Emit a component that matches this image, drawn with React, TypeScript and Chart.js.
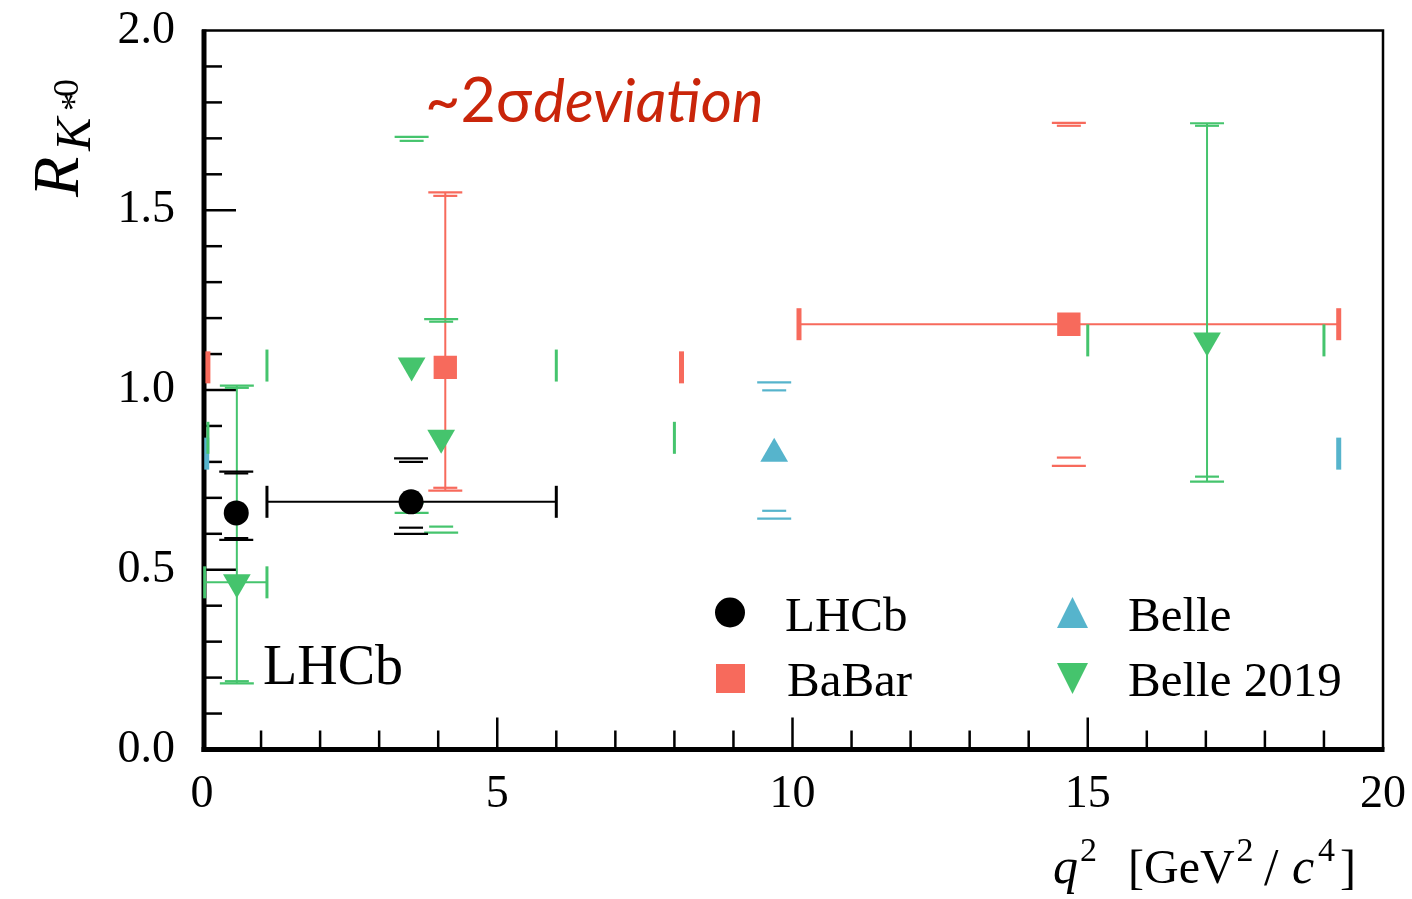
import React, { useEffect, useRef } from 'react';
import { Chart, registerables } from 'chart.js';

Chart.register(...registerables);

// ---------- axis ranges / tick labels ----------
const X_MIN = 0;
const X_MAX = 20;
const X_MAJOR_STEP = 5;
const X_MINOR_STEP = 1;
const Y_MIN = 0;
const Y_MAX = 2;
const Y_MAJOR_STEP = 0.5;
const Y_MINOR_STEP = 0.1;

// ---------- LHCb ----------
const LHCB_Q2 = [0.58, 3.54];
const LHCB_R = [0.658, 0.689];
const LHCB_Q2_LO = [0.045, 1.1];
const LHCB_Q2_HI = [1.1, 6.0];
const LHCB_STAT_HI = [0.768, 0.8];
const LHCB_TOT_HI = [0.773, 0.81];
const LHCB_STAT_LO = [0.588, 0.617];
const LHCB_TOT_LO = [0.583, 0.6];

// ---------- BaBar ----------
const BABAR_Q2 = [4.12, 14.68];
const BABAR_R = [1.063, 1.183];
const BABAR_Q2_LO = [0.1, 10.11];
const BABAR_Q2_HI = [8.12, 19.25];
const BABAR_STAT_HI = [1.54, 1.735];
const BABAR_TOT_HI = [1.55, 1.743];
const BABAR_STAT_LO = [0.728, 0.812];
const BABAR_TOT_LO = [0.72, 0.789];

// ---------- Belle ----------
const BELLE_Q2 = [9.69];
const BELLE_R = [0.823];
const BELLE_Q2_LO = [0.08];
const BELLE_Q2_HI = [19.25];
const BELLE_STAT_HI = [0.999];
const BELLE_TOT_HI = [1.021];
const BELLE_STAT_LO = [0.664];
const BELLE_TOT_LO = [0.642];

// ---------- Belle 2019 ----------
const BELLE19_Q2 = [0.59, 3.55, 4.05, 17.02];
const BELLE19_R = [0.465, 1.068, 0.867, 1.138];
const BELLE19_Q2_LO = [0.045, 1.1, 0.1, 15.0];
const BELLE19_Q2_HI = [1.1, 6.0, 8.0, 19.0];
const BELLE19_STAT_HI = [1.006, 1.693, 1.19, 1.735];
const BELLE19_TOT_HI = [1.012, 1.704, 1.197, 1.742];
const BELLE19_STAT_LO = [0.19, 0.685, 0.62, 0.759];
const BELLE19_TOT_LO = [0.184, 0.658, 0.603, 0.745];

// ---------- colours ----------
const C_LHCB = '#000000';
const C_BABAR = '#F76A5C';
const C_BELLE = '#56B4CC';
const C_BELLE19 = '#45C46D';
const C_NOTE = '#C9250A';

// which pieces of each error bar are drawn (as in the original figure)
type ErrSeries = {
  color: string;
  q2: number[]; r: number[]; q2Lo: number[]; q2Hi: number[];
  statHi: number[]; totHi: number[]; statLo: number[]; totLo: number[];
  vLine: boolean[]; hLine: boolean[]; xCaps: boolean[]; xCapWidth: number;
};

const SERIES_ERR: ErrSeries[] = [
  {
    color: C_BELLE, q2: BELLE_Q2, r: BELLE_R, q2Lo: BELLE_Q2_LO, q2Hi: BELLE_Q2_HI,
    statHi: BELLE_STAT_HI, totHi: BELLE_TOT_HI, statLo: BELLE_STAT_LO, totLo: BELLE_TOT_LO,
    vLine: [false], hLine: [false], xCaps: [true], xCapWidth: 5,
  },
  {
    color: C_BABAR, q2: BABAR_Q2, r: BABAR_R, q2Lo: BABAR_Q2_LO, q2Hi: BABAR_Q2_HI,
    statHi: BABAR_STAT_HI, totHi: BABAR_TOT_HI, statLo: BABAR_STAT_LO, totLo: BABAR_TOT_LO,
    vLine: [true, false], hLine: [false, true], xCaps: [true, true], xCapWidth: 5,
  },
  {
    color: C_BELLE19, q2: BELLE19_Q2, r: BELLE19_R, q2Lo: BELLE19_Q2_LO, q2Hi: BELLE19_Q2_HI,
    statHi: BELLE19_STAT_HI, totHi: BELLE19_TOT_HI, statLo: BELLE19_STAT_LO, totLo: BELLE19_TOT_LO,
    vLine: [true, false, false, true], hLine: [true, false, false, false],
    xCaps: [true, true, true, true], xCapWidth: 3,
  },
  {
    color: C_LHCB, q2: LHCB_Q2, r: LHCB_R, q2Lo: LHCB_Q2_LO, q2Hi: LHCB_Q2_HI,
    statHi: LHCB_STAT_HI, totHi: LHCB_TOT_HI, statLo: LHCB_STAT_LO, totLo: LHCB_TOT_LO,
    vLine: [false, false], hLine: [false, true], xCaps: [false, true], xCapWidth: 3,
  },
];

const SERIF = '"Liberation Serif", "Times New Roman", serif';
const SANS = 'Lato, "Open Sans", sans-serif';

const zeroPad = (s: any) => {
  s.paddingLeft = 0;
  s.paddingRight = 0;
  s.paddingTop = 0;
  s.paddingBottom = 0;
};

const framePlugin = {
  id: 'frameAndErrors',
  beforeDatasetsDraw(chart: any) {
    const { ctx, chartArea: a, scales } = chart;
    const xs = scales.x;
    const ys = scales.y;
    ctx.save();
    // frame
    ctx.strokeStyle = '#000';
    ctx.lineCap = 'butt';
    ctx.lineWidth = 2.5;
    ctx.beginPath();
    ctx.moveTo(a.left, a.top);
    ctx.lineTo(a.right, a.top);
    ctx.lineTo(a.right, a.bottom);
    ctx.stroke();
    ctx.lineWidth = 5;
    ctx.beginPath();
    ctx.moveTo(a.left + 2, a.top - 1);
    ctx.lineTo(a.left + 2, a.bottom + 2.5);
    ctx.stroke();
    ctx.beginPath();
    ctx.moveTo(a.left - 0.5, a.bottom);
    ctx.lineTo(a.right + 1.5, a.bottom);
    ctx.stroke();

    // inward ticks
    ctx.lineWidth = 2.5;
    const ny = Math.round((Y_MAX - Y_MIN) / Y_MINOR_STEP);
    for (let i = 1; i < ny; i++) {
      const v = Y_MIN + i * Y_MINOR_STEP;
      const major = Math.abs(v / Y_MAJOR_STEP - Math.round(v / Y_MAJOR_STEP)) < 1e-6;
      const py = ys.getPixelForValue(v);
      ctx.beginPath();
      ctx.moveTo(a.left + 2, py);
      ctx.lineTo(a.left + (major ? 34 : 20), py);
      ctx.stroke();
    }
    const nx = Math.round((X_MAX - X_MIN) / X_MINOR_STEP);
    for (let i = 1; i < nx; i++) {
      const v = X_MIN + i * X_MINOR_STEP;
      const major = Math.abs(v / X_MAJOR_STEP - Math.round(v / X_MAJOR_STEP)) < 1e-6;
      const px = xs.getPixelForValue(v);
      ctx.beginPath();
      ctx.moveTo(px, a.bottom);
      ctx.lineTo(px, a.bottom - (major ? 32 : 19));
      ctx.stroke();
    }

    // error bars
    for (const s of SERIES_ERR) {
      ctx.strokeStyle = s.color;
      for (let i = 0; i < s.q2.length; i++) {
        const px = xs.getPixelForValue(s.q2[i]);
        const py = ys.getPixelForValue(s.r[i]);
        ctx.lineWidth = 2;
        if (s.vLine[i]) {
          ctx.beginPath();
          ctx.moveTo(px, ys.getPixelForValue(s.totHi[i]));
          ctx.lineTo(px, ys.getPixelForValue(s.totLo[i]));
          ctx.stroke();
        }
        if (s.hLine[i]) {
          ctx.beginPath();
          ctx.moveTo(xs.getPixelForValue(s.q2Lo[i]), py);
          ctx.lineTo(xs.getPixelForValue(s.q2Hi[i]), py);
          ctx.stroke();
        }
        ctx.lineWidth = 2.2;
        const caps: [number, number][] = [
          [s.totHi[i], 17], [s.totLo[i], 17], [s.statHi[i], 12], [s.statLo[i], 12],
        ];
        for (const [v, hw] of caps) {
          const cy = ys.getPixelForValue(v);
          ctx.beginPath();
          ctx.moveTo(px - hw, cy);
          ctx.lineTo(px + hw, cy);
          ctx.stroke();
        }
        if (s.xCaps[i]) {
          ctx.lineWidth = s.xCapWidth;
          for (const v of [s.q2Lo[i], s.q2Hi[i]]) {
            const cx = xs.getPixelForValue(v);
            ctx.beginPath();
            ctx.moveTo(cx, py - 16);
            ctx.lineTo(cx, py + 16);
            ctx.stroke();
          }
        }
      }
    }
    ctx.restore();
  },
  afterDraw(chart: any) {
    const { ctx } = chart;
    ctx.save();
    ctx.fillStyle = '#000';
    ctx.textBaseline = 'alphabetic';
    ctx.textAlign = 'left';

    // in-plot experiment label
    ctx.font = `56px ${SERIF}`;
    ctx.fillText('LHCb', 263, 684);

    // legend
    ctx.fillStyle = C_LHCB;
    ctx.beginPath();
    ctx.arc(730, 612.5, 15, 0, Math.PI * 2);
    ctx.fill();
    ctx.fillStyle = C_BABAR;
    ctx.fillRect(716, 664, 29, 29);
    ctx.fillStyle = C_BELLE;
    ctx.beginPath();
    ctx.moveTo(1072.5, 597);
    ctx.lineTo(1088, 628);
    ctx.lineTo(1057, 628);
    ctx.closePath();
    ctx.fill();
    ctx.fillStyle = C_BELLE19;
    ctx.beginPath();
    ctx.moveTo(1057, 663);
    ctx.lineTo(1088, 663);
    ctx.lineTo(1072.5, 694);
    ctx.closePath();
    ctx.fill();
    ctx.fillStyle = '#000';
    ctx.font = `49px ${SERIF}`;
    ctx.fillText('LHCb', 785, 631);
    ctx.fillText('BaBar', 787, 696);
    ctx.fillText('Belle', 1128, 631);
    ctx.fillText('Belle 2019', 1128, 696);

    // annotation
    ctx.fillStyle = C_NOTE;
    ctx.font = `61px ${SANS}`;
    const head = '~2σ';
    ctx.fillText(head, 425, 122);
    const hw = ctx.measureText(head).width;
    ctx.font = `italic 60px ${SANS}`;
    ctx.fillText('deviation', 425 + hw + 1, 122);

    // x-axis title  q^2 [GeV^2/c^4]
    ctx.fillStyle = '#000';
    const xb = 883;
    const main = `48px ${SERIF}`;
    const ital = `italic 50px ${SERIF}`;
    const sup = `34px ${SERIF}`;
    ctx.font = ital;
    ctx.fillText('q', 1053, xb);
    ctx.font = sup;
    ctx.fillText('2', 1080, xb - 22);
    ctx.font = main;
    ctx.fillText('[GeV', 1128, xb);
    const gw = ctx.measureText('[GeV').width;
    ctx.font = sup;
    ctx.fillText('2', 1128 + gw + 2, xb - 22);
    ctx.font = `52px ${SERIF}`;
    ctx.fillText('/', 1264, xb + 2);
    ctx.font = ital;
    ctx.fillText('c', 1292, xb);
    ctx.font = sup;
    ctx.fillText('4', 1318, xb - 22);
    ctx.font = main;
    ctx.fillText(']', 1340, xb);

    // y-axis title R_{K*0}
    ctx.translate(78, 197);
    ctx.rotate(-Math.PI / 2);
    ctx.font = `italic 66px ${SERIF}`;
    ctx.fillText('R', 0, 0);
    ctx.font = `italic 50px ${SERIF}`;
    ctx.fillText('K', 46, 12);
    ctx.font = `36px ${SERIF}`;
    ctx.fillText('*', 86, 8);
    ctx.fillText('0', 100, 0);
    ctx.restore();
  },
};

export default function App() {
  const ref = useRef<HTMLCanvasElement>(null);
  useEffect(() => {
    const toPts = (xs: number[], ys: number[]) => xs.map((x, i) => ({ x, y: ys[i] }));
    const chart = new Chart(ref.current as HTMLCanvasElement, {
      type: 'scatter',
      data: {
        datasets: [
          {
            label: 'LHCb', data: toPts(LHCB_Q2, LHCB_R), pointStyle: 'circle',
            pointRadius: 12.5, pointHoverRadius: 12.5, backgroundColor: C_LHCB, borderWidth: 0,
          },
          {
            label: 'Belle 2019', data: toPts(BELLE19_Q2, BELLE19_R), pointStyle: 'triangle',
            rotation: 180, pointRadius: 16, pointHoverRadius: 16, backgroundColor: C_BELLE19, borderWidth: 0,
          },
          {
            label: 'BaBar', data: toPts(BABAR_Q2, BABAR_R), pointStyle: 'rect',
            pointRadius: 16.5, pointHoverRadius: 16.5, backgroundColor: C_BABAR, borderWidth: 0,
          },
          {
            label: 'Belle', data: toPts(BELLE_Q2, BELLE_R), pointStyle: 'triangle',
            pointRadius: 16, pointHoverRadius: 16, backgroundColor: C_BELLE, borderWidth: 0,
          },
        ] as any,
      },
      options: {
        responsive: false,
        animation: false,
        devicePixelRatio: 1,
        events: [],
        layout: { padding: { left: 0, top: 30.5, right: 29, bottom: 0 } },
        plugins: { legend: { display: false }, tooltip: { enabled: false } },
        scales: {
          x: {
            type: 'linear', min: X_MIN, max: X_MAX,
            afterFit: (s: any) => { s.height = 149.5; zeroPad(s); },
            grid: { display: false, drawTicks: false },
            border: { display: false },
            ticks: {
              stepSize: X_MAJOR_STEP, autoSkip: false, maxRotation: 0,
              callback: (v: any) => String(Number(v)),
              font: { family: SERIF, size: 46 }, color: '#000', padding: 18,
            },
          },
          y: {
            type: 'linear', min: Y_MIN, max: Y_MAX,
            afterFit: (s: any) => { s.width = 202; zeroPad(s); },
            grid: { display: false, drawTicks: false },
            border: { display: false },
            ticks: {
              stepSize: Y_MAJOR_STEP, autoSkip: false,
              callback: (v: any) => Number(v).toFixed(1),
              font: { family: SERIF, size: 46 }, color: '#000', padding: 27,
            },
          },
        },
      } as any,
      plugins: [framePlugin],
    });
    return () => chart.destroy();
  }, []);
  return (
    <div style={{ position: 'absolute', left: 0, top: 0, width: 1412, height: 899, background: '#fff' }}>
      <canvas ref={ref} width={1412} height={899} style={{ display: 'block' }} />
    </div>
  );
}
